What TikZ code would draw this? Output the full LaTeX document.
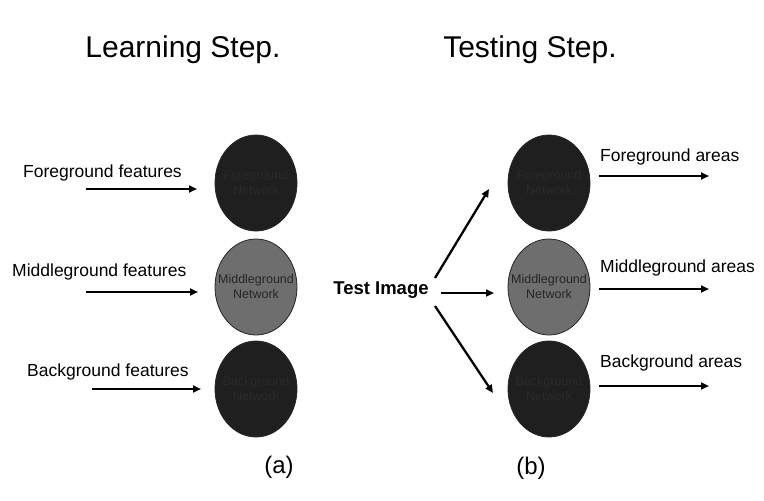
\documentclass[tikz,border=0pt]{standalone}
\usepackage{fontspec}
\setmainfont{Liberation Sans}
\usetikzlibrary{shapes.geometric,arrows.meta}
\definecolor{darknet}{HTML}{1F1F1F}
\definecolor{midnet}{HTML}{6E6E6E}
\definecolor{hidtxt}{HTML}{2A2A2A}
\begin{document}
\begin{tikzpicture}[x=1pt,y=-1pt,
  net/.style={ellipse,draw=black!85,line width=0.8pt,minimum width=82pt,minimum height=96pt,inner sep=0pt},
  dark/.style={net,fill=darknet},
  mid/.style={net,fill=midnet},
  nettext/.style={font=\fontsize{12.5}{15}\selectfont,align=center,inner sep=0pt},
  lbl/.style={font=\fontsize{17.5}{20}\selectfont,inner sep=0pt,anchor=west},
  title/.style={font=\fontsize{30}{34}\selectfont,inner sep=0pt},
  arr/.style={line width=2.3pt,-{Triangle[length=8pt,width=7pt]}}]
\useasboundingbox (0,0) rectangle (764,501);
\fill[white] (0,0) rectangle (764,501);

% titles
\node[title] (t1) at (183,50) {Learning Step.};
\node[title] (t2) at (530,50) {Testing Step.};

% left networks
\node[dark] (lf) at (256,183) {};
\node[mid]  (lm) at (256,287) {};
\node[dark] (lb) at (256,389) {};
\node[nettext,text=hidtxt] at (lf) {Foreground\\Network};
\node[nettext,text=black!85] at (lm) {Middleground\\Network};
\node[nettext,text=hidtxt] at (lb) {Background\\Network};

% right networks
\node[dark] (rf) at (549,183) {};
\node[mid]  (rm) at (549,287) {};
\node[dark] (rb) at (549,389) {};
\node[nettext,text=hidtxt] at (rf) {Foreground\\Network};
\node[nettext,text=black!85] at (rm) {Middleground\\Network};
\node[nettext,text=hidtxt] at (rb) {Background\\Network};

% left labels and arrows
\node[lbl] (lfl) at (23,173) {Foreground features};
\node[lbl] (lml) at (12,272) {Middleground features};
\node[lbl] (lbl1) at (27,372) {Background features};
\coordinate (lfs) at (86,189);  \coordinate (lfe) at (197,189);
\coordinate (lms) at (86,292);  \coordinate (lme) at (198,292);
\coordinate (lbs) at (92,389);  \coordinate (lbe) at (201,389);
\draw[arr] (lfs) -- (lfe);
\draw[arr] (lms) -- (lme);
\draw[arr] (lbs) -- (lbe);

% test image
\node[font=\fontsize{18.5}{22}\selectfont\bfseries,inner sep=0pt] (ti) at (381,290) {Test Image};
\coordinate (tiu) at (435,278); \coordinate (tiue) at (489,189);
\coordinate (tim) at (441,293); \coordinate (time) at (494,293);
\coordinate (tid) at (435,306); \coordinate (tide) at (493,393);
\draw[arr] (tiu) -- (tiue);
\draw[arr] (tim) -- (time);
\draw[arr] (tid) -- (tide);

% right labels and arrows
\node[lbl] (rfl) at (600,157) {Foreground areas};
\node[lbl] (rml) at (600,268) {Middleground areas};
\node[lbl] (rbl) at (600,363) {Background areas};
\coordinate (rfs) at (599,176); \coordinate (rfe) at (709,176);
\coordinate (rms) at (599,289); \coordinate (rme) at (709,289);
\coordinate (rbs) at (599,386); \coordinate (rbe) at (709,386);
\draw[arr] (rfs) -- (rfe);
\draw[arr] (rms) -- (rme);
\draw[arr] (rbs) -- (rbe);

% captions
\node[font=\fontsize{24}{28}\selectfont,inner sep=0pt] (ca) at (279,467) {(a)};
\node[font=\fontsize{24}{28}\selectfont,inner sep=0pt] (cb) at (531,468) {(b)};
\end{tikzpicture}
\end{document}
